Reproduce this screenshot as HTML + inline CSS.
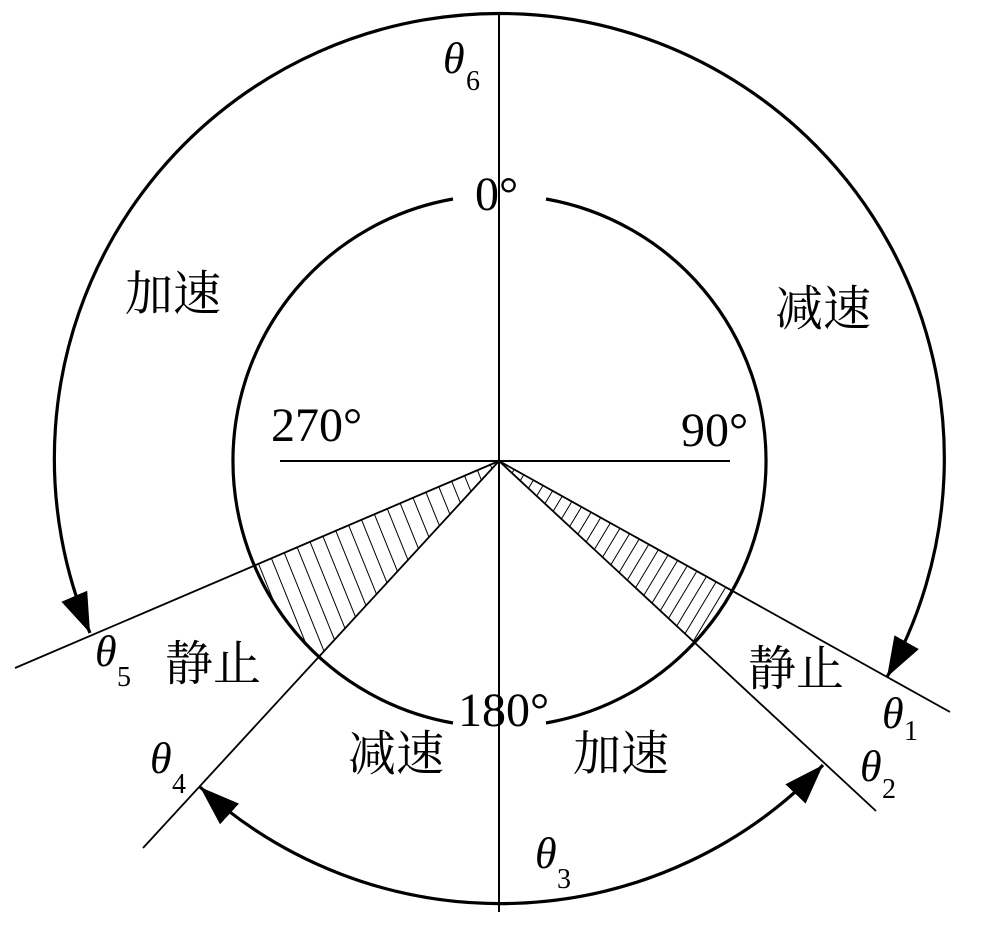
<!DOCTYPE html>
<html><head><meta charset="utf-8"><style>
html,body{margin:0;padding:0;background:#fff;}
svg{display:block;}
.t{font-family:"Liberation Serif","Noto Serif CJK SC",serif;font-size:48px;fill:#000;}
.c{font-family:"Liberation Serif","Noto Serif CJK SC","Noto Sans CJK SC",serif;font-size:48px;fill:#000;}
.th{font-family:"Liberation Serif",serif;font-style:italic;font-size:44px;fill:#000;}
.sub{font-family:"Liberation Serif",serif;font-size:28px;fill:#000;}
</style></head><body>
<svg width="1000" height="927" viewBox="0 0 1000 927" xmlns="http://www.w3.org/2000/svg">
<defs>
<marker id="ar" markerUnits="userSpaceOnUse" markerWidth="44" markerHeight="30" refX="40" refY="14" orient="auto-start-reverse">
<path d="M0,0 L40,14 L0,28 Z" fill="#000"/>
</marker>
<pattern id="hl" width="14" height="20" patternUnits="userSpaceOnUse" patternTransform="rotate(-22)">
<line x1="0" y1="0" x2="0" y2="20" stroke="#000" stroke-width="2"/>
</pattern>
<pattern id="hr" width="11" height="20" patternUnits="userSpaceOnUse" patternTransform="rotate(31)">
<line x1="0" y1="0" x2="0" y2="20" stroke="#000" stroke-width="2"/>
</pattern>
</defs>
<rect width="1000" height="927" fill="#fff"/>
<path d="M499,461 L254,566 A266,266 0 0 0 319,657 Z" fill="url(#hl)"/>
<path d="M499,461 L731,590 A266,266 0 0 1 694,642 Z" fill="url(#hr)"/>
<line x1="499" y1="15" x2="499" y2="912" stroke="#000" stroke-width="2"/>
<line x1="280" y1="461" x2="730" y2="461" stroke="#000" stroke-width="2"/>
<g stroke="#000" stroke-width="1.8">
<line x1="499" y1="461" x2="15" y2="668"/>
<line x1="499" y1="461" x2="143" y2="848"/>
<line x1="499" y1="461" x2="950" y2="712"/>
<line x1="499" y1="461" x2="876" y2="811"/>
</g>
<g fill="none" stroke="#000" stroke-width="3.2">
<path d="M453,199 A266,266 0 0 0 453,723"/>
<path d="M546,199 A266,266 0 0 1 546,723"/>
</g>
<g fill="none" stroke="#000" stroke-width="3.2">
<path d="M90,633 A445,445 0 1 1 887,677" marker-start="url(#ar)" marker-end="url(#ar)"/>
<path d="M200,787 A445,445 0 0 0 823,765" marker-start="url(#ar)" marker-end="url(#ar)"/>
</g>
<text class="t" x="475" y="210">0°</text>
<text class="t" x="271" y="441">270°</text>
<text class="t" x="681" y="446">90°</text>
<text class="t" x="458" y="726">180°</text>
<text class="c" x="125" y="310">加速</text>
<text class="c" x="775" y="325">减速</text>
<text class="c" x="165" y="680">静止</text>
<text class="c" x="748" y="685">静止</text>
<text class="c" x="348" y="770">减速</text>
<text class="c" x="573" y="770">加速</text>
<text class="th" x="443" y="73">θ</text><text class="sub" x="466" y="90">6</text>
<text class="th" x="95" y="666">θ</text><text class="sub" x="117" y="686">5</text>
<text class="th" x="150" y="773">θ</text><text class="sub" x="172" y="793">4</text>
<text class="th" x="535" y="868">θ</text><text class="sub" x="557" y="888">3</text>
<text class="th" x="860" y="781">θ</text><text class="sub" x="882" y="798">2</text>
<text class="th" x="882" y="728">θ</text><text class="sub" x="904" y="740">1</text>
</svg>
</body></html>
